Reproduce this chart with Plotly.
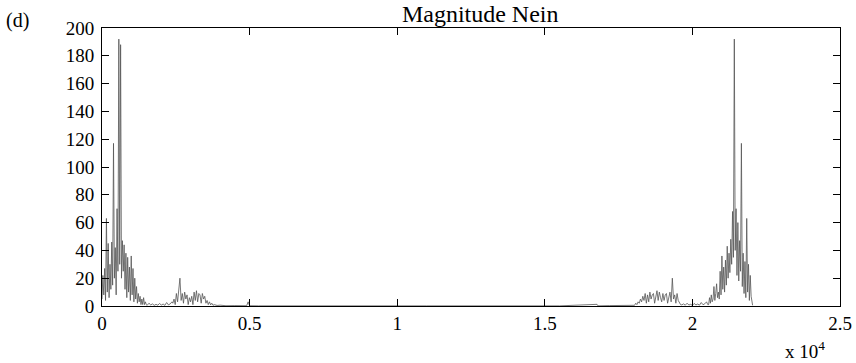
import plotly.graph_objects as go

# sample index and magnitude (left half, low band)
freq_low = [0, 30, 60, 90, 120, 150, 180, 210, 240, 270, 300, 330, 360, 390, 420,
            450, 480, 510, 540, 570, 600, 630, 660, 690, 720, 750, 780, 810, 840,
            870, 900, 930, 960, 990, 1020, 1050, 1080, 1110, 1140, 1170, 1200,
            1230, 1260, 1290, 1320, 1350, 1380, 1410, 1440, 1470, 1500]
mag_low = [5, 22, 8, 27, 4, 63, 10, 45, 6, 30, 12, 46, 15, 117, 20,
           42, 8, 70, 25, 192, 30, 188, 20, 47, 25, 44, 12, 38, 6,
           35, 10, 28, 4, 36, 8, 27, 3, 20, 5, 14, 2,
           9, 3, 7, 1, 5, 1, 6, 1, 3, 1]

freq_mid = [1530, 1590, 1650, 1710, 1770, 1830, 1890, 1950, 2010, 2070, 2130,
            2190, 2250, 2310, 2370, 2400, 2440, 2480, 2520, 2560, 2600, 2640,
            2680, 2720, 2760, 2800, 2840, 2880, 2920, 2960, 3000, 3040, 3080,
            3120, 3160, 3200, 3240, 3280, 3320, 3360, 3400, 3440, 3480, 3520,
            3560, 3600, 3640, 3680, 3720, 3760, 3800, 3900, 4000, 4200, 4500,
            4900, 4950, 5000, 5300, 6500, 8000, 9500, 11000]
mag_mid = [0.5, 2, 0.8, 1.5, 0.5, 1.2, 0.6, 1.8, 0.7, 1.4, 0.5,
           2.5, 0.8, 1.5, 3, 2, 5, 1, 9, 3, 11, 20,
           4, 9, 2, 10, 5, 8, 1, 6, 3, 7, 1,
           10, 4, 11, 3, 9, 8, 2, 9, 5, 7, 2,
           4, 1, 3, 0.8, 2, 0.5, 1, 0.4, 0.6, 0.2, 0.3,
           0.2, 3, 0.2, 0.1, 0.2, 0.1, 0.2, 0.1]

# right half (mirror band)
freq_high = [12500, 14000, 15500, 16770, 16800, 17200, 17600, 17900, 18000,
             18040, 18080, 18120, 18160, 18200, 18240, 18280, 18320, 18360,
             18400, 18440, 18480, 18520, 18560, 18600, 18640, 18680, 18720,
             18760, 18800, 18840, 18880, 18920, 18960, 19000, 19040, 19080,
             19120, 19160, 19200, 19240, 19280, 19320, 19360, 19400, 19440,
             19480, 19520, 19560, 19600, 19640, 19700, 19760, 19820, 19880,
             19940, 20000, 20060, 20120, 20180, 20240, 20300, 20360, 20420,
             20480, 20520]
mag_high = [0.1, 0.2, 0.1, 1.2, 0.1, 0.3, 0.5, 0.6, 1,
            0.5, 2, 1, 3, 2, 5, 3, 7, 4, 9,
            2, 8, 3, 10, 5, 8, 9, 2,
            7, 11, 4, 10, 6, 3, 9, 4, 8,
            9, 2, 7, 10, 3, 20, 5, 8, 2,
            9, 4, 2, 1, 0.8, 1.5, 0.6, 2, 0.7,
            1.2, 0.5, 1.8, 0.8, 1.4, 0.6, 2.5, 0.9, 1.6,
            3, 1]

freq_top = [20550, 20580, 20610, 20640, 20670, 20700, 20730, 20760, 20790,
            20820, 20850, 20880, 20910, 20940, 20970, 21000, 21030, 21060,
            21090, 21120, 21150, 21180, 21210, 21240, 21270, 21300, 21330,
            21360, 21390, 21420, 21450, 21480, 21510, 21540, 21570, 21600,
            21630, 21660, 21690, 21720, 21750, 21780, 21810, 21840, 21870,
            21900, 21930, 21960, 21990, 22020, 22040]
mag_top = [1, 6, 2, 8, 3, 5, 14, 4, 9,
           16, 6, 10, 5, 25, 8, 36, 12, 28, 10,
           33, 15, 43, 20, 38, 24, 48, 30,
           68, 35, 192, 40, 70, 22, 60, 18, 47,
           25, 117, 14, 38, 9, 32, 6, 63, 10,
           30, 4, 22, 7, 3, 0.5]

freq = freq_low + freq_mid + freq_high + freq_top
mag = mag_low + mag_mid + mag_high + mag_top

x_ticks = [0, 5000, 10000, 15000, 20000, 25000]
x_labels = ["0", "0.5", "1", "1.5", "2", "2.5"]
y_ticks = [0, 20, 40, 60, 80, 100, 120, 140, 160, 180, 200]

serif = "Liberation Serif, Times New Roman, serif"

fig = go.Figure(
    go.Scatter(
        x=freq,
        y=mag,
        mode="lines",
        line=dict(color="#555555", width=0.8),
        showlegend=False,
    )
)

axis_style = dict(
    showline=True,
    linecolor="black",
    linewidth=1,
    mirror="ticks",
    ticks="inside",
    ticklen=7,
    tickcolor="black",
    showgrid=False,
    zeroline=False,
    automargin=False,
    tickfont=dict(family=serif, size=19, color="black"),
)

fig.update_xaxes(range=[0, 25000], tickvals=x_ticks, ticktext=x_labels, **axis_style)
fig.update_yaxes(range=[0, 200], tickvals=y_ticks, ticklabelstandoff=3, **axis_style)

fig.update_layout(
    width=856,
    height=363,
    margin=dict(l=102, r=16, t=28, b=57),
    plot_bgcolor="white",
    paper_bgcolor="white",
    title=dict(
        text="Magnitude Nein",
        x=0.561,
        xanchor="center",
        y=0.962,
        yanchor="middle",
        font=dict(family=serif, size=24, color="black"),
    ),
    annotations=[
        dict(text="(d)", xref="paper", yref="paper", x=-0.133, y=1.075,
             xanchor="left", yanchor="top", showarrow=False,
             font=dict(family=serif, size=20, color="black")),
        dict(text="x 10<sup>4</sup>", xref="paper", yref="paper", x=0.982, y=-0.108,
             xanchor="right", yanchor="top", showarrow=False,
             font=dict(family=serif, size=19, color="black")),
    ],
)

# drop the default page margin so the figure sits at the window's corner
fig.write_html(
    "out.html",
    config={"displayModeBar": False},
    post_script="document.body.style.margin = '0';",
)
